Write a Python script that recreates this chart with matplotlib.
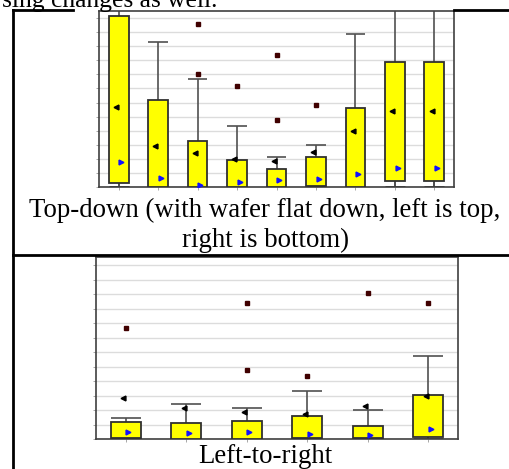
import matplotlib
matplotlib.use("Agg")
import matplotlib.pyplot as plt
from matplotlib.lines import Line2D

# top chart: top-down, 9 sites
td_pos = [1, 2, 3, 4, 5, 6, 7, 8, 9]
td_q1 = [0.31, 0.0, 0.0, 0.0, 0.0, 0.07, 0.0, 0.43, 0.43]
td_q3 = [12.16, 6.16, 3.25, 1.90, 1.28, 2.13, 5.59, 8.86, 8.86]
td_whi_hi = [13.5, 10.31, 7.65, 4.31, 2.16, 2.99, 10.85, 13.5, 13.5]
td_whi_lo = [0.0, 0.0, 0.0, 0.0, 0.0, 0.0, 0.0, 0.0, 0.0]
td_mean_a = [5.71, 2.91, 2.42, 1.97, 1.85, 2.46, 3.96, 5.43, 5.43]
td_mean_b = [1.78, 0.62, 0.14, 0.33, 0.47, 0.57, 0.90, 1.37, 1.37]
td_out_x = [3, 3, 4, 5, 5, 6]
td_out_y = [8.03, 11.56, 7.16, 4.76, 9.36, 5.83]

# bottom chart: left-to-right, 6 sites
lr_pos = [1, 2, 3, 4, 5, 6]
lr_q1 = [0.09, 0.04, 0.04, 0.11, 0.11, 0.16]
lr_q3 = [1.21, 1.10, 1.28, 1.59, 0.90, 3.06]
lr_whi_hi = [1.45, 2.46, 2.14, 3.31, 2.00, 5.77]
lr_whi_lo = [0.0, 0.0, 0.0, 0.0, 0.0, 0.0]
lr_mean_a = [2.87, 2.14, 1.88, 1.77, 2.30, 2.97]
lr_mean_b = [0.48, 0.43, 0.48, 0.34, 0.30, 0.69]
lr_out_x = [1, 3, 3, 4, 5, 6]
lr_out_y = [7.65, 4.78, 9.42, 4.37, 10.11, 9.38]

W, H = 509, 469
fig = plt.figure(figsize=(W / 100, H / 100), dpi=100)


def fx(px):
    return px / W


def fy(py):
    return 1 - py / H


def draw_boxes(ax, pos, q1, q3, whi_hi, whi_lo, mean_a, mean_b, out_x, out_y, ymax, off):
    ax.set_axisbelow(True)
    ax.yaxis.grid(True, color="#dcdcdc", linewidth=1.0)
    ax.vlines(pos, q3, whi_hi, color="#505050", linewidth=1.2, zorder=2)
    ax.hlines(whi_hi, [p - 0.25 for p in pos], [p + 0.25 for p in pos], color="#505050", linewidth=1.2, zorder=2)
    ax.vlines(pos, whi_lo, q1, color="#303030", linewidth=1.2, zorder=2)
    ax.hlines(whi_lo, [p - 0.25 for p in pos], [p + 0.25 for p in pos], color="#303030", linewidth=2.0, zorder=2)
    ax.bar(pos, [b - a for a, b in zip(q1, q3)], bottom=q1, width=0.5,
           color="#ffff00", edgecolor="#303030", linewidth=1.3, zorder=3)
    ax.plot([p - off for p in pos], mean_a, linestyle="none", marker="<", markersize=3.5, color="black", zorder=4)
    ax.plot([p + off for p in pos], mean_b, linestyle="none", marker=">", markersize=3.5, color="#1010ff", zorder=4)
    ax.plot(out_x, out_y, linestyle="none", marker="s", markersize=2.5, color="#400000", zorder=4)
    ax.set_xlim(0.5, len(pos) + 0.5)
    ax.set_ylim(0, ymax)
    ax.set_yticks(range(0, 13))
    ax.set_yticklabels([])
    ax.set_xticks(pos)
    ax.set_xticklabels([])
    ax.tick_params(axis="both", length=2, color="#999999", width=0.6)
    for s in ax.spines.values():
        s.set_color("#404040")
        s.set_linewidth(1.2)


# top-down chart
ax1 = fig.add_axes([fx(99), fy(187), fx(454 - 99), (187 - 11) / H])
draw_boxes(ax1, td_pos, td_q1, td_q3, td_whi_hi, td_whi_lo, td_mean_a, td_mean_b,
           td_out_x, td_out_y, 12.5, 0.07)

# left-to-right chart
ax2 = fig.add_axes([fx(95.7), fy(439.3), fx(458.3 - 95.7), (439.3 - 256.7) / H])
draw_boxes(ax2, lr_pos, lr_q1, lr_q3, lr_whi_hi, lr_whi_lo, lr_mean_a, lr_mean_b,
           lr_out_x, lr_out_y, 12.6, 0.04)

# table borders of the document
fig.add_artist(Line2D([fx(13), fx(73)], [fy(10), fy(10)], color="black", linewidth=2))
fig.add_artist(Line2D([fx(454), fx(509)], [fy(10), fy(10)], color="black", linewidth=2))
fig.add_artist(Line2D([fx(13), fx(509)], [fy(255), fy(255)], color="black", linewidth=2))
fig.add_artist(Line2D([fx(13), fx(13)], [fy(10), fy(469)], color="black", linewidth=2))

serif = "Liberation Serif"
fs = 19.3
fig.text(fx(217), fy(6.5), "sing changes as well.", ha="right", va="baseline", fontsize=18.4, family=serif)
fig.text(fx(265), fy(217), "Top-down (with wafer flat down, left is top,", ha="center", va="baseline",
         fontsize=fs, family=serif)
fig.text(fx(265), fy(247), "right is bottom)", ha="center", va="baseline", fontsize=fs, family=serif)
fig.text(fx(265), fy(463), "Left-to-right", ha="center", va="baseline", fontsize=fs, family=serif)

fig.savefig("out.png", dpi=100)
